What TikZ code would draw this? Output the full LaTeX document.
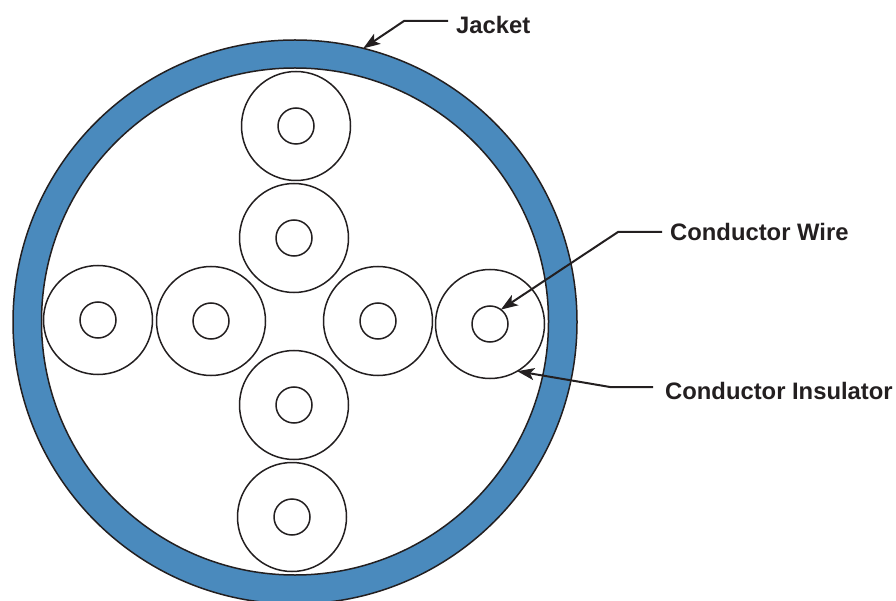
\documentclass[tikz,border=0pt]{standalone}
\usepackage{fontspec}
\setmainfont{Liberation Sans}
\usetikzlibrary{arrows.meta}
\definecolor{jacketblue}{HTML}{4A8ABD}
\definecolor{ink}{HTML}{231F20}
\tikzset{
  ring/.style={circle,draw=ink,line width=1.5pt,inner sep=0pt,outer sep=0pt},
  jacketout/.style={ring,fill=jacketblue,minimum size=564pt},
  jacketin/.style={ring,fill=white,minimum size=507pt},
  insul/.style={ring,fill=white,minimum size=109pt},
  wire/.style={ring,fill=white,minimum size=36pt},
  lab/.style={font=\bfseries\fontsize{23.8}{27}\selectfont,text=ink,inner sep=0pt,anchor=west},
  lead/.style={draw=ink,line width=2pt,-{Stealth[length=17pt,width=12pt,inset=4pt]}}
}
\begin{document}
\begin{tikzpicture}[x=1pt,y=-1pt]
\useasboundingbox (0,0) rectangle (896,601);
\clip (0,0) rectangle (896,601);
\node[jacketout] (jo) at (295,322) {};
\node[jacketin] (ji) at (295,321.5) {};
\foreach \n/\x/\y in {a/296/126,b/294/238,c/98/320,d/211/321,e/378/321,f/490/324,g/294/405,h/292/517}{
  \node[insul] (i\n) at (\x,\y) {};
  \node[wire] (w\n) at (\x,\y) {};
}
\node[lab] (ljacket) at (456,25) {Jacket};
\node[lab] (lwire) at (670,232) {Conductor Wire};
\node[lab] (linsul) at (665,391) {Conductor Insulator};
\coordinate (k1) at (404,21);
\coordinate (k1s) at (448,21);
\coordinate (k2) at (618,232);
\coordinate (k2s) at (662,232);
\coordinate (k3) at (610,387);
\coordinate (k3s) at (653,387);
\draw[lead] (k1s) -- (k1) -- (jo.76);
\draw[lead] (k2s) -- (k2) -- (wf.53);
\draw[lead] (k3s) -- (k3) -- (if.-60.5);
\end{tikzpicture}
\end{document}
